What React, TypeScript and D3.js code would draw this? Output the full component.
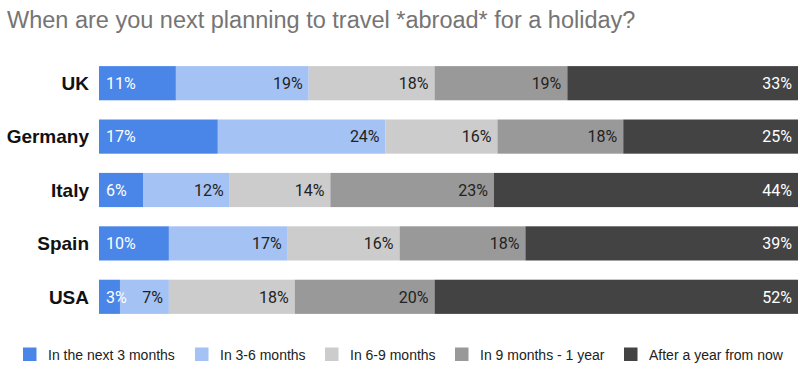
import React from "react";
import * as d3 from "d3";

const categories = ["UK", "Germany", "Italy", "Spain", "USA"];
const seriesNames = [
  "In the next 3 months",
  "In 3-6 months",
  "In 6-9 months",
  "In 9 months - 1 year",
  "After a year from now",
];
const next3 = [11, 17, 6.3, 10, 3];
const m3to6 = [19, 24, 12.4, 17, 7];
const m6to9 = [18, 16, 14.4, 16, 18];
const m9to12 = [19, 18, 23.4, 18, 20];
const afterYear = [33, 25, 43.5, 39, 52];
const seriesValues = [next3, m3to6, m6to9, m9to12, afterYear];
const colors = ["#4a86e8", "#a4c2f4", "#cccccc", "#999999", "#434343"];
const labelColors = ["#ffffff", "#222222", "#222222", "#222222", "#ffffff"];

const W = 800;
const H = 372;

export default function App() {
  const x = d3.scaleLinear().domain([0, 100]).range([99, 798]);
  const y = d3
    .scaleBand<string>()
    .domain(categories)
    .range([56.5, 323.5])
    .paddingInner(0.36)
    .paddingOuter(0.18);

  const rows = categories.map((c, i) => {
    const vals = seriesValues.map((s) => s[i]);
    const total = d3.sum(vals);
    let acc = 0;
    return vals.map((v, j) => {
      const x0 = (acc / total) * 100;
      acc += v;
      const x1 = (acc / total) * 100;
      return { c, j, v, x0, x1 };
    });
  });

  const legendX = [23, 195, 325, 455, 624];

  return (
    <svg
      width={W}
      height={H}
      style={{ position: "absolute", left: 0, top: 0, background: "#fff" }}
    >
      <text
        x={7}
        y={28}
        fontFamily="Arial, 'Liberation Sans', sans-serif"
        fontSize={23.5}
        fill="#757575"
      >
        When are you next planning to travel *abroad* for a holiday?
      </text>
      {rows.map((segs, i) => {
        const c = categories[i];
        const y0 = y(c)!;
        const bw = y.bandwidth();
        return (
          <g key={c}>
            <text
              x={89}
              y={y0 + bw / 2}
              dy="0.36em"
              textAnchor="end"
              fontFamily="Arial, 'Liberation Sans', sans-serif"
              fontWeight="bold"
              fontSize={19}
              fill="#111"
            >
              {c}
            </text>
            {segs.map((s) => (
              <rect
                key={s.j}
                x={x(s.x0)}
                y={y0}
                width={x(s.x1) - x(s.x0)}
                height={bw}
                fill={colors[s.j]}
              />
            ))}
            {segs.map((s) => (
              <text
                key={"l" + s.j}
                x={s.j === 0 ? x(s.x0) + 7 : x(s.x1) - 6}
                y={y0 + bw / 2}
                dy="0.36em"
                textAnchor={s.j === 0 ? "start" : "end"}
                fontFamily="Roboto, sans-serif"
                fontSize={16}
                fill={labelColors[s.j]}
              >
                {Math.round(s.v)}%
              </text>
            ))}
          </g>
        );
      })}
      {seriesNames.map((n, j) => (
        <g key={n}>
          <rect
            x={legendX[j]}
            y={347.5}
            width={13.5}
            height={13.5}
            fill={colors[j]}
          />
          <text
            x={legendX[j] + 25}
            y={354.5}
            dy="0.36em"
            fontFamily="Arial, 'Liberation Sans', sans-serif"
            fontSize={14}
            fill="#222"
          >
            {n}
          </text>
        </g>
      ))}
    </svg>
  );
}
